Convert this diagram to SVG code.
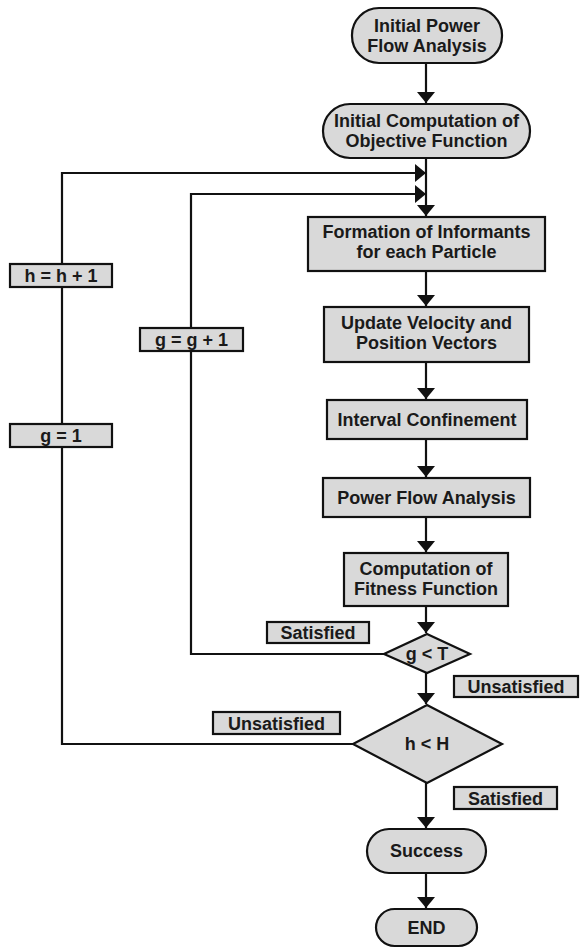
<svg xmlns="http://www.w3.org/2000/svg" width="582" height="948" viewBox="0 0 582 948">
<style>
.n{fill:#d9d9d9;stroke:#111;stroke-width:2.2}
.t{font-family:"Liberation Sans",Arial,sans-serif;font-weight:bold;font-size:18px;fill:#1a1a1a;text-anchor:middle}
.c{fill:none;stroke:#111;stroke-width:2.2}
</style>
<defs>
<marker id="a" markerUnits="userSpaceOnUse" markerWidth="12" markerHeight="18" viewBox="0 0 12 18" refX="11" refY="9" orient="auto">
<path d="M0,0 L11,9 L0,18 Z" fill="#111"/>
</marker>
</defs>
<rect width="582" height="948" fill="#fff"/>
<g id="connectors">
<path class="c" d="M426,63 V103" marker-end="url(#a)"/>
<path class="c" d="M426,158 V216" marker-end="url(#a)"/>
<path class="c" d="M353,744 H62 V173 H426" marker-end="url(#a)"/>
<path class="c" d="M384,654 H191 V194 H426" marker-end="url(#a)"/>
<path class="c" d="M426,271 V306" marker-end="url(#a)"/>
<path class="c" d="M426,362 V399" marker-end="url(#a)"/>
<path class="c" d="M426,439 V477" marker-end="url(#a)"/>
<path class="c" d="M426,517 V552" marker-end="url(#a)"/>
<path class="c" d="M426,606 V633" marker-end="url(#a)"/>
<path class="c" d="M426,673 V704" marker-end="url(#a)"/>
<path class="c" d="M426,783 V828" marker-end="url(#a)"/>
<path class="c" d="M426,873 V908" marker-end="url(#a)"/>
</g>
<g id="n1"><rect class="n" x="352" y="8" width="150" height="55" rx="27"/><text class="t" x="427" y="31.5">Initial Power</text><text class="t" x="427" y="51.5">Flow Analysis</text></g>
<g id="n2"><rect class="n" x="323" y="104" width="207" height="54" rx="27"/><text class="t" x="426.5" y="127">Initial Computation of</text><text class="t" x="426.5" y="147">Objective Function</text></g>
<g id="n3"><rect class="n" x="308" y="217" width="237" height="54"/><text class="t" x="426.5" y="238">Formation of Informants</text><text class="t" x="426.5" y="258">for each Particle</text></g>
<g id="n4"><rect class="n" x="324" y="307" width="205" height="55"/><text class="t" x="426.5" y="329">Update Velocity and</text><text class="t" x="426.5" y="349">Position Vectors</text></g>
<g id="n5"><rect class="n" x="327" y="400" width="200" height="39"/><text class="t" x="427" y="425.5">Interval Confinement</text></g>
<g id="n6"><rect class="n" x="323" y="478" width="207" height="39"/><text class="t" x="426.5" y="503.5">Power Flow Analysis</text></g>
<g id="n7"><rect class="n" x="344" y="553" width="164" height="53"/><text class="t" x="426" y="575">Computation of</text><text class="t" x="426" y="595">Fitness Function</text></g>
<g id="d1"><polygon class="n" points="427,634 470,654 427,673 384,654"/><text class="t" x="427" y="660">g &lt; T</text></g>
<g id="d2"><polygon class="n" points="427,705 502,744 427,783 353,744"/><text class="t" x="427" y="750">h &lt; H</text></g>
<g id="n8"><rect class="n" x="367" y="829" width="119" height="44" rx="22"/><text class="t" x="426.5" y="857">Success</text></g>
<g id="n9"><rect class="n" x="376" y="909" width="101" height="37" rx="18.5"/><text class="t" x="426.5" y="934">END</text></g>
<g id="l1"><rect class="n" x="10" y="264" width="102" height="23"/><text class="t" x="61" y="282">h = h + 1</text></g>
<g id="l2"><rect class="n" x="140" y="328" width="103" height="23"/><text class="t" x="191.5" y="346">g = g + 1</text></g>
<g id="l3"><rect class="n" x="10" y="424" width="102" height="23"/><text class="t" x="61" y="442">g = 1</text></g>
<g id="l4"><rect class="n" x="267" y="622" width="102" height="21"/><text class="t" x="318" y="639">Satisfied</text></g>
<g id="l5"><rect class="n" x="454" y="676" width="124" height="21"/><text class="t" x="516" y="693">Unsatisfied</text></g>
<g id="l6"><rect class="n" x="213" y="712" width="127" height="22"/><text class="t" x="276.5" y="729.5">Unsatisfied</text></g>
<g id="l7"><rect class="n" x="454" y="787" width="103" height="22"/><text class="t" x="505.5" y="804.5">Satisfied</text></g>
</svg>
